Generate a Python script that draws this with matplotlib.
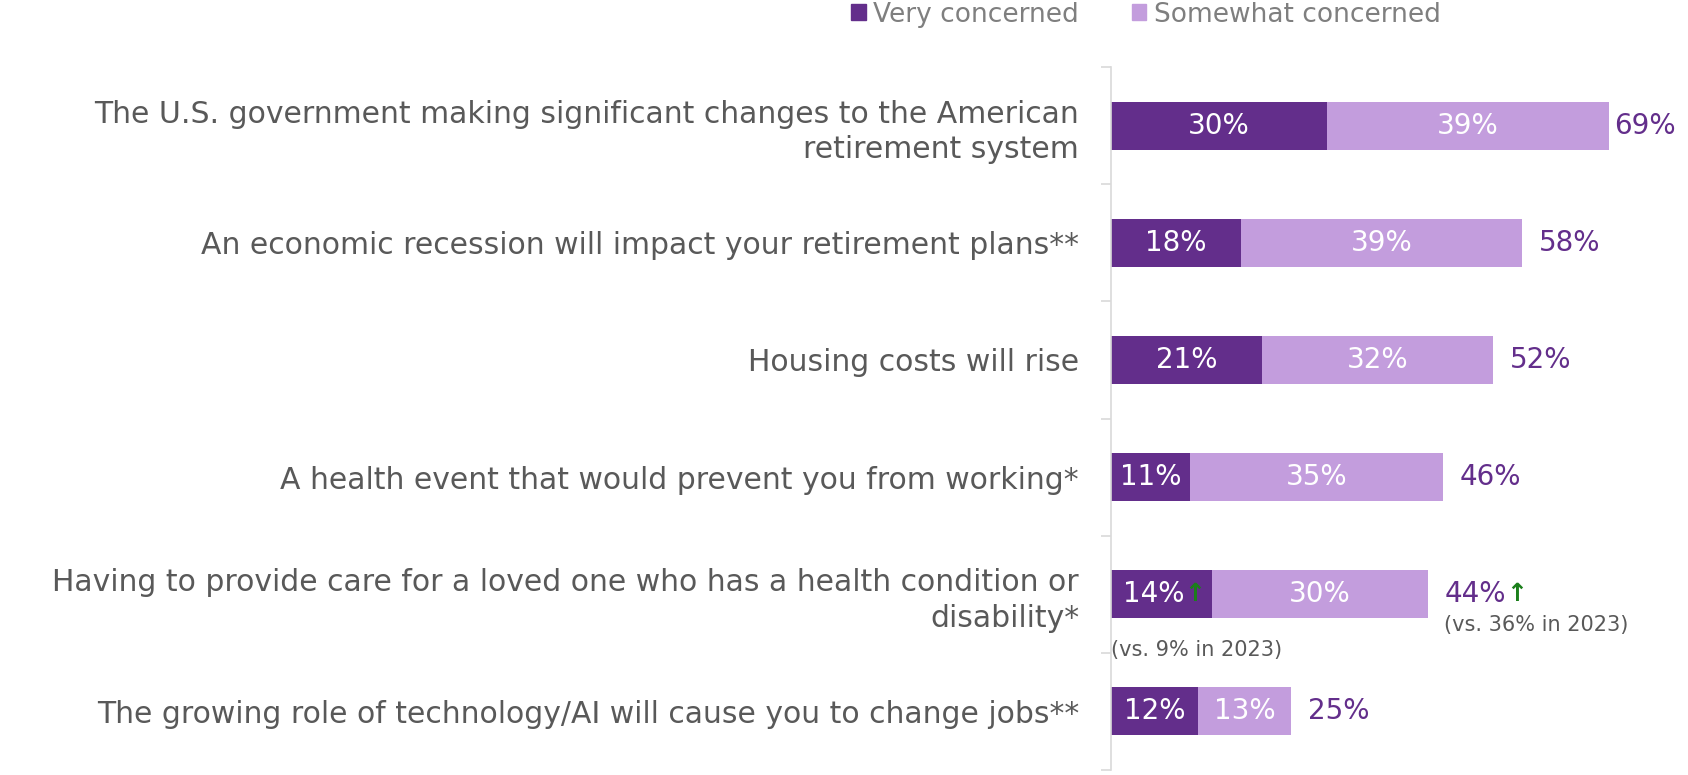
import matplotlib
matplotlib.use("Agg")
from matplotlib import pyplot as plt
from matplotlib.patches import Patch

plt.rcParams['font.family'] = ['DejaVu Sans']

categories = [
    "The U.S. government making significant changes to the American\nretirement system",
    "An economic recession will impact your retirement plans**",
    "Housing costs will rise",
    "A health event that would prevent you from working*",
    "Having to provide care for a loved one who has a health condition or\ndisability*",
    "The growing role of technology/AI will cause you to change jobs**",
]
very = [30, 18, 21, 11, 14, 12]
somewhat = [39, 39, 32, 35, 30, 13]
totals = [69, 58, 52, 46, 44, 25]
series_names = ["Very concerned", "Somewhat concerned"]
# row index -> (note under dark bar, note under total)
notes = {4: ("(vs. 9% in 2023)", "(vs. 36% in 2023)")}

dark = '#632e8b'
light = '#c39ddd'
gray = '#595959'
green = '#1b7f1b'

fig = plt.figure(figsize=(16.88, 7.75), dpi=100)
ax = fig.add_axes([1111 / 1688, 5 / 775, 577 / 1688, 703 / 775])

y = list(range(len(categories)))
ax.barh(y, very, height=0.41, color=dark)
ax.barh(y, somewhat, left=very, height=0.41, color=light)

for i in y:
    tv = ax.text(very[i] / 2, i, f"{very[i]}%", color='white', fontsize=20,
                 ha='center', va='center')
    ax.text(very[i] + somewhat[i] / 2, i, f"{somewhat[i]}%", color='white',
            fontsize=20, ha='center', va='center')
    end = very[i] + somewhat[i]
    off = 4 if totals[i] > 65 else 12
    tt = ax.annotate(f"{totals[i]}%", (end, i), xytext=(off, 0),
                     textcoords='offset points', color=dark, fontsize=20,
                     ha='left', va='center')
    if i in notes:
        tv.set_x(very[i] / 2 - 1.1)
        ax.annotate("\u2191", xy=(1, 0.5), xycoords=tv, ha='left', va='center',
                    color=green, fontsize=18, fontweight='bold')
        ax.annotate("\u2191", xy=(1, 0.5), xycoords=tt, ha='left', va='center',
                    color=green, fontsize=18, fontweight='bold')
        ax.annotate(notes[i][0], (0, i), xytext=(0, -40),
                    textcoords='offset points', color=gray, fontsize=15,
                    ha='left', va='center')
        ax.annotate(notes[i][1], (end, i), xytext=(11, -22),
                    textcoords='offset points', color=gray, fontsize=15,
                    ha='left', va='center')

ax.set_xlim(0, 80)
ax.set_ylim(len(categories) - 0.5, -0.5)
ax.set_xticks([])
ax.set_yticks(y, categories, fontsize=21.5, color=gray, linespacing=1.3)
ax.set_yticks([v - 0.5 for v in range(len(categories) + 1)], minor=True)
ax.tick_params(axis='y', which='major', length=0, pad=23)
ax.tick_params(axis='y', which='minor', length=7.5, width=1.2, color='#d9d9d9')
for s in ['top', 'right', 'bottom']:
    ax.spines[s].set_visible(False)
ax.spines['left'].set_color('#d9d9d9')
ax.spines['left'].set_linewidth(1.2)

handles = [Patch(color=dark), Patch(color=light)]
fig.legend(handles, series_names, loc='center', bbox_to_anchor=(0.679, 0.981),
           ncol=2, frameon=False, fontsize=19, labelcolor='#7f7f7f',
           handlelength=0.55, handleheight=0.55, handletextpad=0.3,
           columnspacing=2.0)

fig.savefig('out.png', dpi=100)
